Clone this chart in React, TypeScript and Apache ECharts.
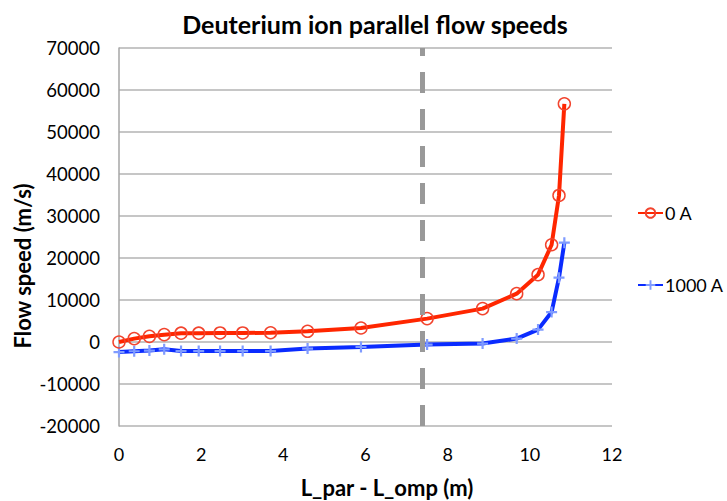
import React, { useEffect, useRef } from "react";
import * as echarts from "echarts";

const xValues = [0, 0.37, 0.74, 1.1, 1.51, 1.94, 2.46, 3.01, 3.69, 4.59, 5.89, 7.5, 8.85, 9.68, 10.2, 10.53, 10.71, 10.84];
const redValues = [0, 800, 1350, 1750, 2100, 2100, 2150, 2150, 2200, 2550, 3330, 5570, 7940, 11510, 16030, 23160, 34890, 56700];
const blueValues = [-2400, -2200, -2050, -1740, -2150, -2150, -2150, -2150, -2150, -1570, -1190, -620, -380, 810, 2950, 7130, 15310, 23640];
const seriesNames = ["0 A", "1000 A"];
const dashedLineX = 7.38;
const titleText = "Deuterium ion parallel flow speeds";
const xAxisName = "L_par - L_omp (m)";
const yAxisName = "Flow speed (m/s)";

const FONT = "Lato, 'Open Sans', sans-serif";
const plusPath = "path://M4,0 H6 V4 H10 V6 H6 V10 H4 V6 H0 V4 H4 Z";

export default function App() {
  const ref = useRef<HTMLDivElement>(null);
  useEffect(() => {
    if (!ref.current) return;
    const chart = echarts.init(ref.current, null, { renderer: "svg" });
    const red = xValues.map((x, i) => [x, redValues[i]]);
    const blue = xValues.map((x, i) => [x, blueValues[i]]);
    chart.setOption({
      animation: false,
      backgroundColor: "#fff",
      title: {
        text: titleText,
        left: 370,
        textAlign: "center",
        top: 6,
        textStyle: { fontFamily: FONT, fontWeight: "bold", fontSize: 25, color: "#000" },
      },
      legend: {
        orient: "vertical",
        left: 632,
        top: 199,
        itemWidth: 25,
        itemHeight: 12,
        itemGap: 54,
        textStyle: { fontFamily: FONT, fontSize: 18, color: "#000", padding: [0, 0, 0, -3] },
        data: seriesNames,
      },
      graphic: [
        {
          type: "text",
          x: 387,
          y: 487,
          style: {
            text: xAxisName,
            font: `bold 22px ${FONT}`,
            fill: "#000",
            textAlign: "center",
            textVerticalAlign: "middle",
          },
        },
        {
          type: "text",
          x: 22,
          y: 266,
          rotation: Math.PI / 2,
          style: {
            text: yAxisName,
            font: `bold 22px ${FONT}`,
            fill: "#000",
            textAlign: "center",
            textVerticalAlign: "middle",
          },
        },
      ],
      grid: { left: 119, right: 115, top: 48, bottom: 75, containLabel: false, outerBoundsMode: "none" },
      xAxis: {
        type: "value",
        min: 0,
        max: 12,
        interval: 2,
        axisLine: { show: false },
        axisTick: { show: false },
        splitLine: { show: false },
        axisLabel: { fontFamily: FONT, fontSize: 18, color: "#000", margin: 19 },
      },
      yAxis: {
        type: "value",
        min: -20000,
        max: 70000,
        interval: 10000,
        axisLine: { show: true, lineStyle: { color: "#a6a6a6", width: 1.5 } },
        axisTick: { show: false },
        splitLine: { show: true, lineStyle: { color: "#b3b3b3", width: 1.5 } },
        axisLabel: {
          fontFamily: FONT,
          fontSize: 18.5,
          color: "#000",
          margin: 19,
          formatter: (v: number) => String(v),
        },
      },
      series: [
        {
          name: seriesNames[0],
          type: "line",
          data: red,
          symbol: "circle",
          symbolSize: 12,
          z: 3,
          lineStyle: { color: "#ff2600", width: 4 },
          itemStyle: { color: "rgba(255,255,255,0)", borderColor: "#f2442e", borderWidth: 1.5 },
          markLine: {
            silent: true,
            symbol: "none",
            label: { show: false },
            lineStyle: { color: "#999999", width: 5, type: [21, 16] },
            data: [{ xAxis: dashedLineX }],
          },
        },
        {
          name: seriesNames[1],
          type: "line",
          data: blue,
          symbol: plusPath,
          symbolSize: 11,
          z: 2,
          lineStyle: { color: "#0a2bff", width: 4 },
          itemStyle: { color: "#7f9bff" },
        },
      ],
    });
    return () => chart.dispose();
  }, []);
  return (
    <div
      ref={ref}
      style={{ position: "fixed", left: 0, top: 0, width: 727, height: 501 }}
    />
  );
}
